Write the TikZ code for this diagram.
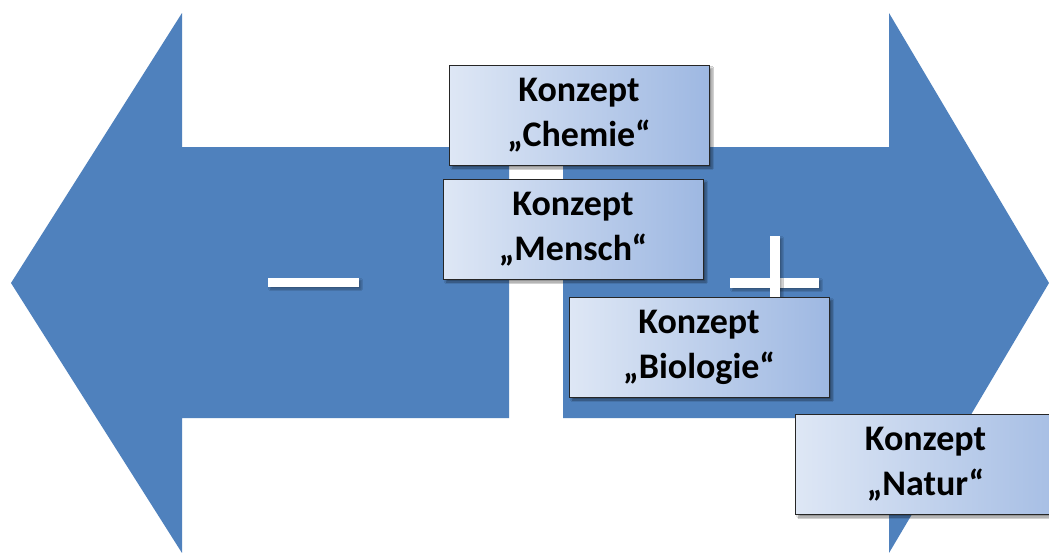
\documentclass[tikz,border=0pt]{standalone}
\usepackage{fontspec}
\newfontfamily\boxfont{Carlito}
\usetikzlibrary{shadows.blur}
\definecolor{arrowblue}{RGB}{79,129,189}
\definecolor{boxL}{RGB}{222,231,245}
\definecolor{boxR}{RGB}{158,184,226}
\begin{document}
\begin{tikzpicture}[x=1pt,y=-1pt,
  konzept/.style={draw=black!85, line width=1pt, left color=boxL, right color=boxR,
    minimum width=260pt, minimum height=100pt, inner sep=0pt, align=center,
    font=\boxfont\bfseries\fontsize{36}{45}\selectfont,
    blur shadow={shadow xshift=3pt, shadow yshift=-3pt, shadow blur steps=6, shadow opacity=45}},
  signbar/.style={fill=white, draw=none,
    blur shadow={shadow xshift=2pt, shadow yshift=-2pt, shadow blur steps=4, shadow opacity=35}}
]
\useasboundingbox (0,0) rectangle (1049,552);
\clip (0,0) rectangle (1049,552);
\fill[white] (0,0) rectangle (1049,552);
% arrows
\fill[arrowblue] (11,283) -- (182,13) -- (182,147) -- (509,147) -- (509,418) -- (182,418) -- (182,553) -- cycle;
\fill[arrowblue] (563,147) -- (889,147) -- (889,13) -- (1049,283) -- (889,553) -- (889,418) -- (563,418) -- cycle;
% minus and plus
\path[signbar] (268,278) rectangle (359,287);
\path[signbar] (730,278) rectangle (819,288);
\path[signbar] (770,236) rectangle (780,330);
% concept boxes
\node[konzept] (chemie) at (579,115) {Konzept\\„Chemie“};
\node[konzept] (mensch) at (573,229) {Konzept\\„Mensch“};
\node[konzept] (biologie) at (699,347) {Konzept\\„Biologie“};
\node[konzept, minimum width=300pt, anchor=west] (natur) at (795,464) {\hspace*{-40pt}Konzept\\\hspace*{-40pt}„Natur“};
\end{tikzpicture}
\end{document}
